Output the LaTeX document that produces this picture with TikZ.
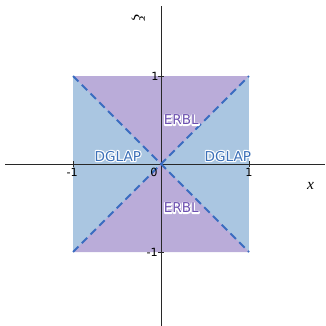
\documentclass[tikz,border=0pt]{standalone}
\usepackage{fontspec}
\setmainfont{DejaVu Sans}
\newfontfamily\mathlike{Liberation Serif}

\definecolor{dglapfill}{RGB}{170,198,225}
\definecolor{erblfill}{RGB}{186,172,217}
\definecolor{dglaptext}{RGB}{60,112,184}
\definecolor{erbltext}{RGB}{108,80,176}
\definecolor{diagline}{RGB}{58,108,192}
\definecolor{axisgray}{RGB}{40,40,40}

% text with a white rim: stroked copy underneath, plain copy on top
\newcommand{\halo}[1]{%
  \rlap{\special{pdf:literal direct 1 1 1 RG 1.5 w 1 j 2 Tr}#1\special{pdf:literal direct 0 Tr}}#1}

\begin{document}
\begin{tikzpicture}[x=2cm, y=2cm,
    region label/.style={font=\fontsize{8.8}{10}\selectfont, inner sep=0pt},
    tick label/.style={font=\fontsize{7.3}{8}\selectfont, inner sep=0pt},
    axis/.style={draw=axisgray, line width=0.5pt}]
  \useasboundingbox (-1.830,-1.841) rectangle (1.864,1.864);

  % corners of the square
  \coordinate (O) at (0,0);
  \coordinate (ne) at (1,1);
  \coordinate (nw) at (-1,1);
  \coordinate (sw) at (-1,-1);
  \coordinate (se) at (1,-1);

  % regions
  \fill[dglapfill] (sw) rectangle (ne);
  \fill[erblfill] (nw) -- (ne) -- (O) -- cycle;
  \fill[erblfill] (sw) -- (se) -- (O) -- cycle;

  % axes
  \coordinate (xl) at (-1.77,0);
  \coordinate (xr) at (1.86,0);
  \coordinate (yb) at (0,-1.84);
  \coordinate (yt) at (0,1.80);
  \draw[axis] (xl) -- (xr);
  \draw[axis] (yb) -- (yt);

  % ticks
  \foreach \t in {-1,1} {
    \draw[axis] (\t,-0.03) -- (\t,0.03);
    \draw[axis] (-0.03,\t) -- (0.03,\t);
  }

  % diagonals
  \draw[diagline, line width=1.2pt, dash pattern=on 5pt off 3pt] (sw) -- (ne);
  \draw[diagline, line width=1.2pt, dash pattern=on 5pt off 3pt] (nw) -- (se);

  % tick labels
  \node[tick label] (xm1) at (-1.01,-0.09) {-1};
  \node[tick label] (xp1) at (1.0,-0.09) {1};
  \node[tick label] (zero) at (-0.08,-0.10) {0};
  \node[tick label] (yp1) at (-0.07,1.0) {1};
  \node[tick label] (ym1) at (-0.10,-1.0) {-1};

  % axis names
  \node[font=\mathlike\itshape\fontsize{10}{12}\selectfont, inner sep=0pt] (xname) at (1.70,-0.25) {x};
  \node[font=\mathlike\itshape\fontsize{10}{12}\selectfont, inner sep=0pt, rotate=-90] (xiname) at (-0.26,1.66) {ξ};

  % region labels
  \node[region label, text=dglaptext] (dglapL) at (-0.49,0.09) {\halo{DGLAP}};
  \node[region label, text=dglaptext] (dglapR) at (0.76,0.09) {\halo{DGLAP}};
  \node[region label, text=erbltext] (erblT) at (0.23,0.50) {\halo{ERBL}};
  \node[region label, text=erbltext] (erblB) at (0.23,-0.50) {\halo{ERBL}};
\end{tikzpicture}
\end{document}
